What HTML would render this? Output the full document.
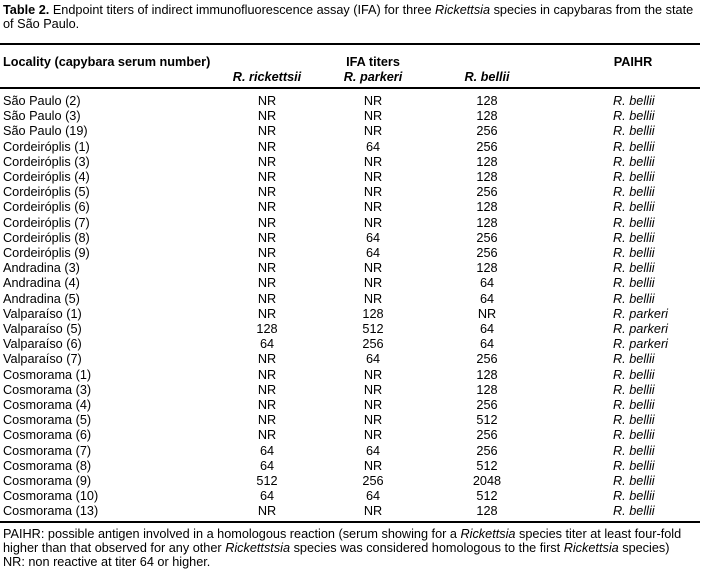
<!DOCTYPE html>
<html><head><meta charset="utf-8"><style>
body{margin:0;width:704px;height:581px;background:#fff;position:relative;font-family:"Liberation Sans",Arial,sans-serif;font-size:12.7px;color:#000;overflow:hidden}
.t{position:absolute;white-space:nowrap;line-height:14px}
.r{position:absolute;left:0;width:700px;height:2px;background:#000}
.row{position:absolute;left:0;width:704px;height:14px;line-height:14px}
.row span{position:absolute;white-space:nowrap}
.c1{left:3px}.c2{left:227px;width:80px;text-align:center}.c3{left:333px;width:80px;text-align:center}.c4{left:447px;width:80px;text-align:center}.c5{left:613px;font-style:italic}
i{font-style:italic}
</style></head><body>
<div class="t" style="left:3px;top:3px"><b>Table 2.</b> Endpoint titers of indirect immunofluorescence assay (IFA) for three <i>Rickettsia</i> species in capybaras from the state</div>
<div class="t" style="left:3px;top:17px">of São Paulo.</div>
<div class="r" style="top:43px"></div>
<div class="t" style="left:3px;top:55px;font-weight:bold">Locality (capybara serum number)</div>
<div class="t" style="left:333px;top:55px;width:80px;text-align:center;font-weight:bold">IFA titers</div>
<div class="t" style="left:606px;top:55px;width:54px;text-align:center;font-weight:bold">PAIHR</div>
<div class="t" style="left:227px;top:70px;width:80px;text-align:center;font-weight:bold;font-style:italic">R. rickettsii</div>
<div class="t" style="left:333px;top:70px;width:80px;text-align:center;font-weight:bold;font-style:italic">R. parkeri</div>
<div class="t" style="left:447px;top:70px;width:80px;text-align:center;font-weight:bold;font-style:italic">R. bellii</div>
<div class="r" style="top:87px"></div>
<div class="r" style="top:521px"></div>
<div class="t" style="left:3px;top:527px">PAIHR: possible antigen involved in a homologous reaction (serum showing for a <i>Rickettsia</i> species titer at least four-fold</div>
<div class="t" style="left:3px;top:541px">higher than that observed for any other <i>Rickettstsia</i> species was considered homologous to the first <i>Rickettsia</i> species)</div>
<div class="t" style="left:3px;top:555px">NR: non reactive at titer 64 or higher.</div>
<div class="row" style="top:94px"><span class="c1">São Paulo (2)</span><span class="c2">NR</span><span class="c3">NR</span><span class="c4">128</span><span class="c5">R. bellii</span></div>
<div class="row" style="top:109.2px"><span class="c1">São Paulo (3)</span><span class="c2">NR</span><span class="c3">NR</span><span class="c4">128</span><span class="c5">R. bellii</span></div>
<div class="row" style="top:124.4px"><span class="c1">São Paulo (19)</span><span class="c2">NR</span><span class="c3">NR</span><span class="c4">256</span><span class="c5">R. bellii</span></div>
<div class="row" style="top:139.6px"><span class="c1">Cordeiróplis (1)</span><span class="c2">NR</span><span class="c3">64</span><span class="c4">256</span><span class="c5">R. bellii</span></div>
<div class="row" style="top:154.8px"><span class="c1">Cordeiróplis (3)</span><span class="c2">NR</span><span class="c3">NR</span><span class="c4">128</span><span class="c5">R. bellii</span></div>
<div class="row" style="top:170px"><span class="c1">Cordeiróplis (4)</span><span class="c2">NR</span><span class="c3">NR</span><span class="c4">128</span><span class="c5">R. bellii</span></div>
<div class="row" style="top:185.2px"><span class="c1">Cordeiróplis (5)</span><span class="c2">NR</span><span class="c3">NR</span><span class="c4">256</span><span class="c5">R. bellii</span></div>
<div class="row" style="top:200.4px"><span class="c1">Cordeiróplis (6)</span><span class="c2">NR</span><span class="c3">NR</span><span class="c4">128</span><span class="c5">R. bellii</span></div>
<div class="row" style="top:215.6px"><span class="c1">Cordeiróplis (7)</span><span class="c2">NR</span><span class="c3">NR</span><span class="c4">128</span><span class="c5">R. bellii</span></div>
<div class="row" style="top:230.8px"><span class="c1">Cordeiróplis (8)</span><span class="c2">NR</span><span class="c3">64</span><span class="c4">256</span><span class="c5">R. bellii</span></div>
<div class="row" style="top:246px"><span class="c1">Cordeiróplis (9)</span><span class="c2">NR</span><span class="c3">64</span><span class="c4">256</span><span class="c5">R. bellii</span></div>
<div class="row" style="top:261.2px"><span class="c1">Andradina (3)</span><span class="c2">NR</span><span class="c3">NR</span><span class="c4">128</span><span class="c5">R. bellii</span></div>
<div class="row" style="top:276.4px"><span class="c1">Andradina (4)</span><span class="c2">NR</span><span class="c3">NR</span><span class="c4">64</span><span class="c5">R. bellii</span></div>
<div class="row" style="top:291.6px"><span class="c1">Andradina (5)</span><span class="c2">NR</span><span class="c3">NR</span><span class="c4">64</span><span class="c5">R. bellii</span></div>
<div class="row" style="top:306.8px"><span class="c1">Valparaíso (1)</span><span class="c2">NR</span><span class="c3">128</span><span class="c4">NR</span><span class="c5">R. parkeri</span></div>
<div class="row" style="top:322px"><span class="c1">Valparaíso (5)</span><span class="c2">128</span><span class="c3">512</span><span class="c4">64</span><span class="c5">R. parkeri</span></div>
<div class="row" style="top:337.2px"><span class="c1">Valparaíso (6)</span><span class="c2">64</span><span class="c3">256</span><span class="c4">64</span><span class="c5">R. parkeri</span></div>
<div class="row" style="top:352.4px"><span class="c1">Valparaíso (7)</span><span class="c2">NR</span><span class="c3">64</span><span class="c4">256</span><span class="c5">R. bellii</span></div>
<div class="row" style="top:367.6px"><span class="c1">Cosmorama (1)</span><span class="c2">NR</span><span class="c3">NR</span><span class="c4">128</span><span class="c5">R. bellii</span></div>
<div class="row" style="top:382.8px"><span class="c1">Cosmorama (3)</span><span class="c2">NR</span><span class="c3">NR</span><span class="c4">128</span><span class="c5">R. bellii</span></div>
<div class="row" style="top:398px"><span class="c1">Cosmorama (4)</span><span class="c2">NR</span><span class="c3">NR</span><span class="c4">256</span><span class="c5">R. bellii</span></div>
<div class="row" style="top:413.2px"><span class="c1">Cosmorama (5)</span><span class="c2">NR</span><span class="c3">NR</span><span class="c4">512</span><span class="c5">R. bellii</span></div>
<div class="row" style="top:428.4px"><span class="c1">Cosmorama (6)</span><span class="c2">NR</span><span class="c3">NR</span><span class="c4">256</span><span class="c5">R. bellii</span></div>
<div class="row" style="top:443.6px"><span class="c1">Cosmorama (7)</span><span class="c2">64</span><span class="c3">64</span><span class="c4">256</span><span class="c5">R. bellii</span></div>
<div class="row" style="top:458.8px"><span class="c1">Cosmorama (8)</span><span class="c2">64</span><span class="c3">NR</span><span class="c4">512</span><span class="c5">R. bellii</span></div>
<div class="row" style="top:474px"><span class="c1">Cosmorama (9)</span><span class="c2">512</span><span class="c3">256</span><span class="c4">2048</span><span class="c5">R. bellii</span></div>
<div class="row" style="top:489.2px"><span class="c1">Cosmorama (10)</span><span class="c2">64</span><span class="c3">64</span><span class="c4">512</span><span class="c5">R. bellii</span></div>
<div class="row" style="top:504.4px"><span class="c1">Cosmorama (13)</span><span class="c2">NR</span><span class="c3">NR</span><span class="c4">128</span><span class="c5">R. bellii</span></div>
</body></html>
